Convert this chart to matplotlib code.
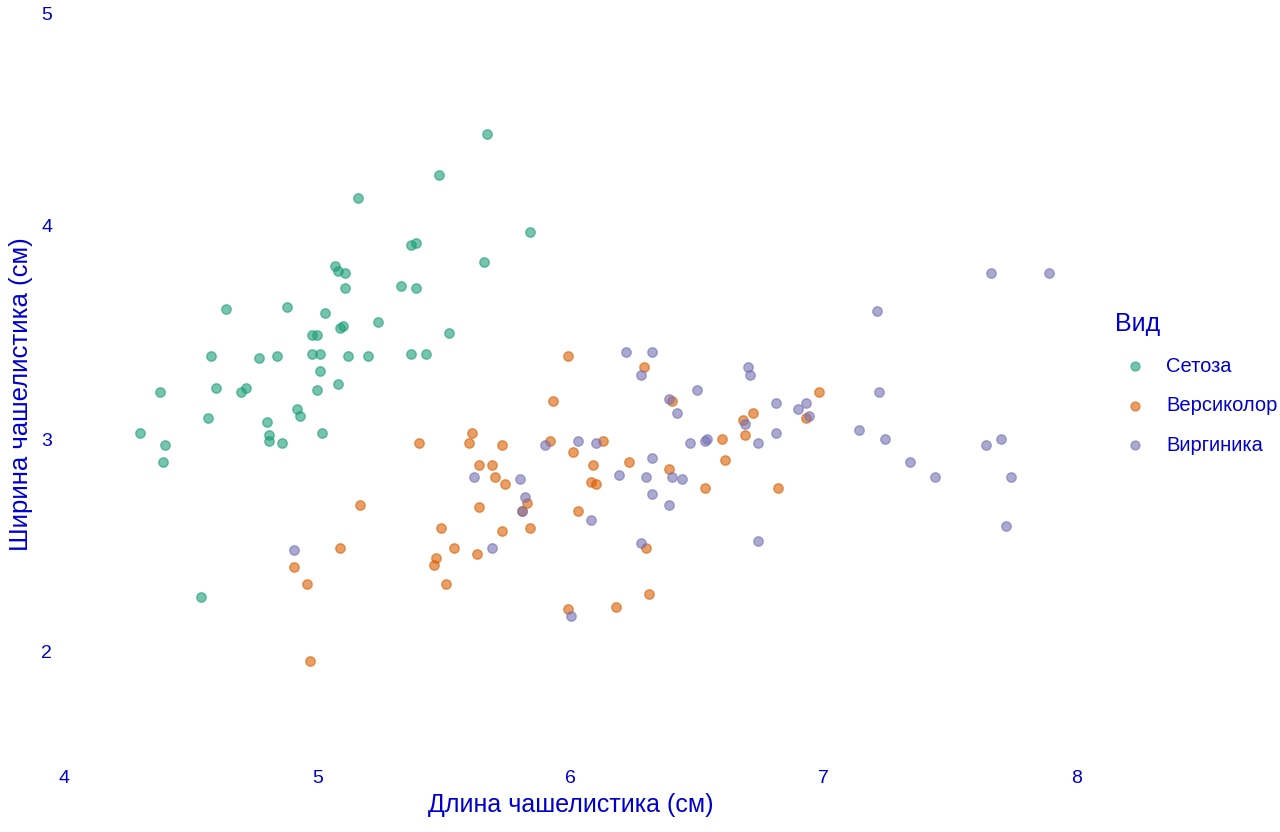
import matplotlib
matplotlib.use("Agg")
import matplotlib.pyplot as plt

plt.rcParams['font.family'] = ['Liberation Sans', 'DejaVu Sans']

species = ["Сетоза", "Версиколор", "Виргиника"]
colors = ["#1B9E77", "#D95F02", "#7570B3"]

setosa_x = [5.67, 5.48, 5.16, 5.84, 5.39, 5.37, 5.66, 5.07, 5.08, 5.11,
            5.11, 5.33, 5.39, 4.64, 4.88, 5.03, 5.10, 5.09, 5.24, 5.52,
            4.98, 5.00, 4.58, 4.77, 4.84, 4.98, 5.01, 5.12, 5.20, 5.37,
            5.43, 5.01, 4.60, 5.08, 4.72, 4.70, 4.38, 5.00, 4.92, 4.80,
            4.93, 4.57, 4.81, 4.81, 4.30, 5.02, 4.86, 4.40, 4.39, 4.54]
setosa_y = [4.43, 4.24, 4.13, 3.97, 3.92, 3.91, 3.83, 3.81, 3.79, 3.78,
            3.71, 3.72, 3.71, 3.61, 3.62, 3.59, 3.53, 3.52, 3.55, 3.50,
            3.49, 3.49, 3.39, 3.38, 3.39, 3.40, 3.40, 3.39, 3.39, 3.40,
            3.40, 3.32, 3.24, 3.26, 3.24, 3.22, 3.22, 3.23, 3.14, 3.08,
            3.11, 3.10, 3.02, 2.99, 3.03, 3.03, 2.98, 2.97, 2.89, 2.26]

versicolor_x = [5.40, 5.61, 5.60, 5.64, 5.64, 5.17, 5.49, 5.54, 5.63, 5.47,
                5.46, 5.51, 5.09, 4.91, 4.96, 4.97, 5.99, 6.29, 5.93, 6.40,
                6.72, 6.68, 6.69, 6.60, 5.73, 5.92, 6.13, 6.01, 5.69, 5.70,
                5.74, 6.09, 6.23, 6.39, 6.61, 6.08, 6.10, 6.53, 5.83, 5.81,
                6.03, 5.73, 5.84, 6.30, 6.31, 6.18, 5.99, 6.98, 6.93, 6.82]
versicolor_y = [2.98, 3.03, 2.98, 2.88, 2.68, 2.69, 2.58, 2.49, 2.46, 2.44,
                2.41, 2.32, 2.49, 2.40, 2.32, 1.96, 3.39, 3.34, 3.18, 3.18,
                3.12, 3.09, 3.02, 3.00, 2.97, 2.99, 2.99, 2.94, 2.88, 2.82,
                2.79, 2.88, 2.89, 2.86, 2.90, 2.80, 2.79, 2.77, 2.70, 2.66,
                2.66, 2.57, 2.58, 2.49, 2.27, 2.21, 2.20, 3.22, 3.10, 2.77]

virginica_x = [4.91, 5.62, 6.22, 6.32, 6.70, 6.71, 6.28, 6.50, 6.39, 6.42,
               6.69, 6.54, 6.53, 6.47, 6.74, 5.90, 6.03, 6.10, 6.32, 6.19,
               6.30, 6.40, 6.44, 5.80, 5.82, 5.81, 6.32, 6.39, 6.08, 5.69,
               6.28, 6.74, 6.00, 6.81, 6.93, 6.90, 6.94, 6.81, 7.66, 7.89,
               7.21, 7.22, 7.14, 7.24, 7.34, 7.44, 7.64, 7.70, 7.74, 7.72]
virginica_y = [2.48, 2.82, 3.41, 3.41, 3.34, 3.30, 3.30, 3.23, 3.19, 3.12,
               3.07, 3.00, 2.99, 2.98, 2.98, 2.97, 2.99, 2.98, 2.91, 2.83,
               2.82, 2.82, 2.81, 2.81, 2.73, 2.66, 2.74, 2.69, 2.62, 2.49,
               2.51, 2.52, 2.17, 3.17, 3.17, 3.14, 3.11, 3.03, 3.78, 3.78,
               3.60, 3.22, 3.04, 3.00, 2.89, 2.82, 2.97, 3.00, 2.82, 2.59]

x_ticks = [4, 5, 6, 7, 8]
y_ticks = [2, 3, 4, 5]

text_color = "#0000CD"

fig = plt.figure(figsize=(12.8, 8.32), dpi=100)
ax = fig.add_axes([64 / 1280, (832 - 758.5) / 832, 1013 / 1280, 745.5 / 832])

series = [(setosa_x, setosa_y), (versicolor_x, versicolor_y), (virginica_x, virginica_y)]
handles = []
for (xs, ys), name, c in zip(series, species, colors):
    h = ax.scatter(xs, ys, s=46, color=c, alpha=0.6, edgecolors=c,
                   linewidths=1.0, label=name, zorder=3)
    handles.append(h)

ax.set_xlim(4, 8)
ax.set_ylim(1.5, 5)
ax.set_xticks(x_ticks)
ax.set_yticks(y_ticks)
ax.set_xticklabels([str(v) for v in x_ticks])
ax.set_yticklabels([str(v) for v in y_ticks])
ax.tick_params(axis='both', length=0, labelsize=14, labelcolor=text_color)
ax.tick_params(axis='x', pad=8.5)
ax.tick_params(axis='y', pad=8.5)
for sp in ax.spines.values():
    sp.set_visible(False)
ax.grid(False)

ax.set_xlabel("Длина чашелистика (см)", fontsize=18, color=text_color)
ax.xaxis.set_label_coords(0.5, (758.5 - 805) / 745.5)
ax.xaxis.label.set_va('center')
ax.set_ylabel("Ширина чашелистика (см)", fontsize=18.5, color=text_color)
ax.yaxis.set_label_coords((21 - 64) / 1013, (758.5 - 394) / 745.5)
ax.yaxis.label.set_va('center')

leg = ax.legend(handles=handles, title="Вид", loc='upper left',
                bbox_to_anchor=(1115 / 1280, 1 - 312 / 832),
                bbox_transform=fig.transFigure, frameon=False,
                fontsize=14.5, title_fontsize=18, alignment='left',
                handlelength=2.0, handletextpad=0.53, labelspacing=1.02,
                borderpad=0, borderaxespad=0, markerscale=0.95)
for t in leg.get_texts():
    t.set_color(text_color)
leg.get_title().set_color(text_color)

fig.savefig("out.png", dpi=100, facecolor="white")
